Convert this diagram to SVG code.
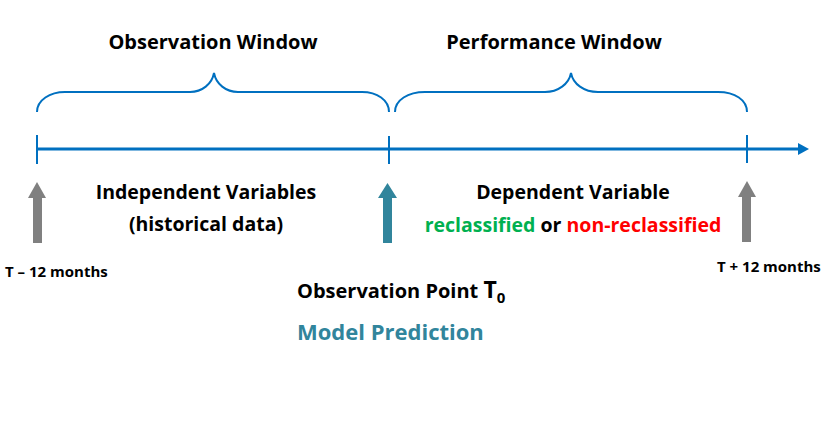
<svg xmlns="http://www.w3.org/2000/svg" width="834" height="436" viewBox="0 0 834 436">
<style>
text{font-family:"Open Sans","Noto Sans","DejaVu Sans",sans-serif;font-weight:bold;fill:#000}
.t{font-size:20px}
.m{font-size:19.5px}
.s{font-size:15px}
.brace{fill:none;stroke:#0070C0;stroke-width:2}
.tick{stroke:#0070C0;stroke-width:2}
.gray{fill:#808080}
.teal{fill:#31859C}
</style>
<rect width="834" height="436" fill="#fff"/>
<g id="connectors">
<line x1="37" y1="149" x2="800" y2="149" stroke="#0070C0" stroke-width="3"/>
<polygon points="798,143 809,149 798,155" fill="#0070C0"/>
<line class="tick" x1="37" y1="135" x2="37" y2="164"/>
<line class="tick" x1="389" y1="136" x2="389" y2="164"/>
<line class="tick" x1="747" y1="135" x2="747" y2="163"/>
</g>
<g id="observation-window">
<path class="brace" d="M37,112 C37,100 50,92 65,92 L190,92 C202,92 212,84 214,73 C216,84 226,92 238,92 L362,92 C377,92 389,100 389,112"/>
<text class="t" x="213" y="49" text-anchor="middle">Observation Window</text>
</g>
<g id="performance-window">
<path class="brace" d="M395,112 C395,100 408,92 425,92 L545,92 C558,92 569,84 571,73 C573,84 584,92 598,92 L718,92 C735,92 747,100 747,112"/>
<text class="t" x="554" y="49" text-anchor="middle">Performance Window</text>
</g>
<g id="start-point">
<polygon class="gray" points="37,182 46,198 42,198 42,243 33,243 33,198 28,198"/>
<text class="s" x="5" y="277">T – 12 months</text>
</g>
<g id="independent">
<text class="m" x="206" y="199" text-anchor="middle">Independent Variables</text>
<text class="m" x="206" y="231" text-anchor="middle">(historical data)</text>
</g>
<g id="observation-point">
<polygon class="teal" points="387.5,183 397,198 392,198 392,243 383,243 383,198 378,198"/>
<text class="t" x="297" y="298">Observation Point <tspan font-size="23">T</tspan><tspan font-size="15" dy="5">0</tspan></text>
<text class="t" x="297" y="340" style="fill:#31859C;font-size:22px">Model Prediction</text>
</g>
<g id="dependent">
<text class="m" x="573" y="199" text-anchor="middle">Dependent Variable</text>
<text class="m" x="573" y="232" text-anchor="middle"><tspan fill="#00B050">reclassified</tspan> or <tspan fill="#FF0000">non-reclassified</tspan></text>
</g>
<g id="end-point">
<polygon class="gray" points="747,181 756,197 751,197 751,242 742,242 742,197 738,197"/>
<text class="s" x="717" y="272">T + 12 months</text>
</g>
</svg>
